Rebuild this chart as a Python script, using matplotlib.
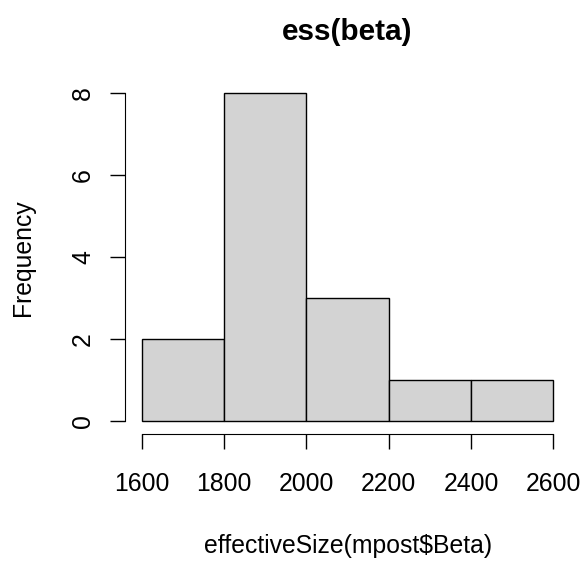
import numpy as np
import matplotlib
matplotlib.use("Agg")
import matplotlib.pyplot as plt

# histogram of effective sample sizes
bin_edges = [1600, 1800, 2000, 2200, 2400, 2600]
counts = [2, 8, 3, 1, 1]
x_ticks = [1600, 1800, 2000, 2200, 2400, 2600]
y_ticks = [0, 2, 4, 6, 8]

plt.rcParams['font.family'] = ['Liberation Sans', 'DejaVu Sans']

fig = plt.figure(figsize=(5.83, 5.61), dpi=100)
ax = fig.add_axes([0.2148, 0.2262, 0.7628, 0.6308])

widths = np.diff(bin_edges)
ax.bar(bin_edges[:-1], counts, width=widths, align='edge',
       color='#D3D3D3', edgecolor='black', linewidth=1.0)

ax.set_xlim(1560, 2640)
ax.set_ylim(-0.32, 8.32)

for s in ['top', 'right']:
    ax.spines[s].set_visible(False)
ax.spines['bottom'].set_bounds(1600, 2600)
ax.spines['left'].set_bounds(0, 8)

ax.set_xticks(x_ticks)
ax.set_yticks(y_ticks)
ax.set_yticklabels([str(v) for v in y_ticks], rotation=90, va='center')
ax.tick_params(direction='out', length=10.8, width=1.0, labelsize=17.8)
ax.tick_params(axis='x', pad=16.5)
ax.tick_params(axis='y', pad=11)

ax.set_title('ess(beta)', fontsize=21.4, fontweight='bold', pad=29)
ax.set_xlabel('effectiveSize(mpost\\$Beta)', fontsize=17.8, labelpad=27)
ax.set_ylabel('Frequency', fontsize=17.8, labelpad=25.8)

fig.savefig('out.png', dpi=100)
